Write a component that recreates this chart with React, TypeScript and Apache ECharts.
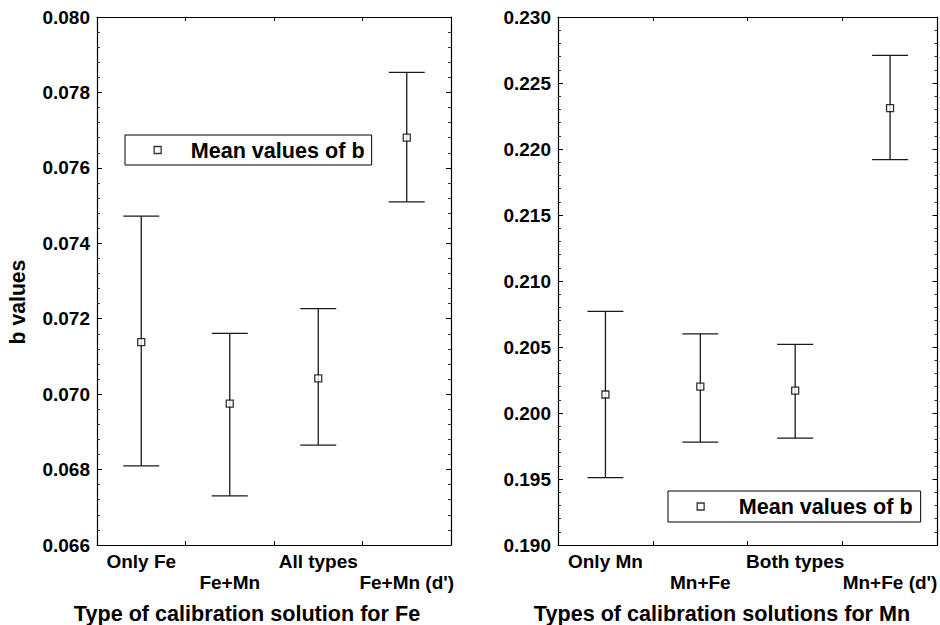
import React, { useEffect, useRef } from "react";
import * as echarts from "echarts";

const feCategories = ["Only Fe", "Fe+Mn", "All types", "Fe+Mn (d')"];
const feMean = [0.07138, 0.06975, 0.07042, 0.0768];
const feLow = [0.0681, 0.0673, 0.06865, 0.0751];
const feHigh = [0.07472, 0.07161, 0.07227, 0.07853];

const mnCategories = ["Only Mn", "Mn+Fe", "Both types", "Mn+Fe (d')"];
const mnMean = [0.2014, 0.202, 0.2017, 0.2231];
const mnLow = [0.1951, 0.1978, 0.1981, 0.2192];
const mnHigh = [0.2077, 0.206, 0.2052, 0.2271];

const seriesName = "Mean values of b";
const FONT = "'Liberation Sans', Arial, Helvetica, sans-serif";

function errorRender(params: any, api: any) {
  const idx = api.value(0);
  const lo = api.coord([idx, api.value(1)]);
  const hi = api.coord([idx, api.value(2)]);
  const hw = 18;
  const style = { stroke: "#1a1a1a", lineWidth: 1.3, fill: null };
  return {
    type: "group",
    children: [
      { type: "line", shape: { x1: lo[0], y1: lo[1], x2: hi[0], y2: hi[1] }, style },
      { type: "line", shape: { x1: lo[0] - hw, y1: lo[1], x2: lo[0] + hw, y2: lo[1] }, style },
      { type: "line", shape: { x1: hi[0] - hw, y1: hi[1], x2: hi[0] + hw, y2: hi[1] }, style },
    ],
  };
}

function makeOption() {
  const axisLine = { show: true, lineStyle: { color: "#000", width: 1.2 } };
  const labelStyle = { color: "#000", fontFamily: FONT, fontWeight: "bold" as const, fontSize: 19 };
  const bigStyle = { color: "#000", fontFamily: FONT, fontWeight: "bold" as const, fontSize: 21.6 };
  const bottomX = (gridIndex: number, cats: string[]) => ({
    type: "category",
    gridIndex,
    data: cats,
    position: "bottom",
    boundaryGap: true,
    axisLine,
    axisTick: { show: true, inside: true, length: 4, lineStyle: { color: "#000" } },
    splitLine: { show: false },
    axisLabel: {
      ...labelStyle,
      interval: 0,
      margin: 6,
      lineHeight: 21,
      formatter: (v: string, i: number) => (i % 2 === 1 ? "\n" + v : v),
    },
  });
  const topX = (gridIndex: number, cats: string[]) => ({
    type: "category",
    gridIndex,
    data: cats,
    position: "top",
    boundaryGap: true,
    axisLine,
    axisTick: { show: true, inside: true, length: 4, lineStyle: { color: "#000" } },
    axisLabel: { show: false },
    splitLine: { show: false },
  });
  const leftY = (gridIndex: number, min: number, max: number, interval: number) => ({
    type: "value",
    gridIndex,
    position: "left",
    min,
    max,
    interval,
    axisLine,
    axisTick: { show: true, inside: true, length: 5, lineStyle: { color: "#000" } },
    minorTick: { show: true, splitNumber: 5, length: 3, lineStyle: { color: "#333" } },
    splitLine: { show: false },
    axisLabel: {
      ...labelStyle,
      margin: 7,
      formatter: (v: number) => v.toFixed(3),
    },
  });
  const rightY = (gridIndex: number, min: number, max: number, interval: number) => ({
    type: "value",
    gridIndex,
    position: "right",
    min,
    max,
    interval,
    axisLine,
    axisTick: { show: true, inside: true, length: 5, lineStyle: { color: "#000" } },
    minorTick: { show: true, splitNumber: 5, length: 3, lineStyle: { color: "#333" } },
    splitLine: { show: false },
    axisLabel: { show: false },
  });

  const scatterStyle = { color: "#fff", borderColor: "#000", borderWidth: 1.3 };

  return {
    animation: false,
    backgroundColor: "#fff",
    textStyle: { fontFamily: FONT },
    grid: [
      { left: 97, top: 17, width: 354, height: 528 },
      { left: 558, top: 17, width: 383, height: 528 },
    ],
    xAxis: [
      bottomX(0, feCategories),
      topX(0, feCategories),
      bottomX(1, mnCategories),
      topX(1, mnCategories),
    ],
    yAxis: [
      leftY(0, 0.066, 0.08, 0.002),
      rightY(0, 0.066, 0.08, 0.002),
      leftY(1, 0.19, 0.23, 0.005),
      rightY(1, 0.19, 0.23, 0.005),
    ],
    legend: [
      {
        data: [seriesName],
        left: 125,
        top: 135,
        orient: "horizontal",
        icon: "rect",
        itemWidth: 7,
        itemHeight: 7,
        itemStyle: { color: "#fff", borderColor: "#000", borderWidth: 1.3 },
        borderColor: "#000",
        borderWidth: 1,
        padding: [4, 7, 4, 28.5],
        selectedMode: false,
        textStyle: { ...bigStyle, padding: [0, 0, 0, 24.5] },
      },
      {
        data: [seriesName],
        left: 668,
        top: 491,
        orient: "horizontal",
        icon: "rect",
        itemWidth: 7,
        itemHeight: 7,
        itemStyle: { color: "#fff", borderColor: "#000", borderWidth: 1.3 },
        borderColor: "#000",
        borderWidth: 1,
        padding: [4.5, 8, 4.5, 28.5],
        selectedMode: false,
        textStyle: { ...bigStyle, padding: [0, 0, 0, 29.5] },
      },
    ],
    series: [
      {
        type: "custom",
        name: "feErr",
        xAxisIndex: 0,
        yAxisIndex: 0,
        renderItem: errorRender,
        encode: { x: 0, y: [1, 2] },
        data: feCategories.map((_, i) => [i, feLow[i], feHigh[i]]),
        z: 2,
      },
      {
        type: "scatter",
        name: seriesName,
        xAxisIndex: 0,
        yAxisIndex: 0,
        symbol: "rect",
        symbolSize: 7,
        itemStyle: scatterStyle,
        data: feMean,
        z: 3,
      },
      {
        type: "custom",
        name: "mnErr",
        xAxisIndex: 2,
        yAxisIndex: 2,
        renderItem: errorRender,
        encode: { x: 0, y: [1, 2] },
        data: mnCategories.map((_, i) => [i, mnLow[i], mnHigh[i]]),
        z: 2,
      },
      {
        type: "scatter",
        name: seriesName,
        xAxisIndex: 2,
        yAxisIndex: 2,
        symbol: "rect",
        symbolSize: 7,
        itemStyle: scatterStyle,
        data: mnMean,
        z: 3,
      },
    ],
    graphic: [
      {
        type: "text",
        x: 247,
        y: 613,
        style: {
          text: "Type of calibration solution for Fe",
          x: 0,
          y: 0,
          textAlign: "center",
          textVerticalAlign: "middle",
          fill: "#000",
          font: `bold 21.6px ${FONT}`,
        },
      },
      {
        type: "text",
        x: 722,
        y: 613,
        style: {
          text: "Types of calibration solutions for Mn",
          x: 0,
          y: 0,
          textAlign: "center",
          textVerticalAlign: "middle",
          fill: "#000",
          font: `bold 21.6px ${FONT}`,
        },
      },
      {
        type: "text",
        x: 17,
        y: 302,
        rotation: Math.PI / 2,
        style: {
          text: "b values",
          x: 0,
          y: 0,
          textAlign: "center",
          textVerticalAlign: "middle",
          fill: "#000",
          font: `bold 21.2px ${FONT}`,
        },
      },
    ],
  };
}

export default function App() {
  const ref = useRef<HTMLDivElement>(null);
  useEffect(() => {
    document.body.style.margin = "0";
    if (!ref.current) return;
    const chart = echarts.init(ref.current, null, { renderer: "svg" });
    chart.setOption(makeOption() as any);
    return () => chart.dispose();
  }, []);
  return <div ref={ref} style={{ width: 940, height: 625 }} />;
}
